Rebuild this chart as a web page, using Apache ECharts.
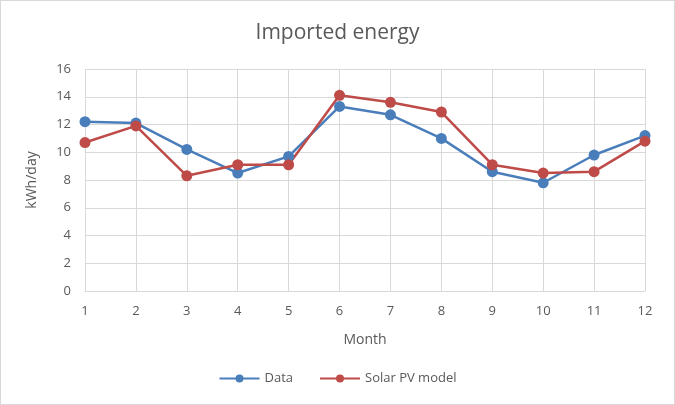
<!DOCTYPE html>
<html><head><meta charset="utf-8">
<script src="https://cdn.jsdelivr.net/npm/echarts@6/dist/echarts.min.js"></script>
<style>html,body{margin:0;padding:0;background:#fff}#c{width:673px;height:403px;border:1px solid #d9d9d9}</style>
</head><body><div id="c"></div>
<script>
const months = ['1','2','3','4','5','6','7','8','9','10','11','12'];
const dataSeries = [12.2, 12.1, 10.2, 8.5, 9.7, 13.3, 12.7, 11.0, 8.6, 7.8, 9.8, 11.2];
const modelSeries = [10.7, 11.9, 8.3, 9.1, 9.1, 14.1, 13.6, 12.9, 9.1, 8.5, 8.6, 10.8];
const font = 'Open Sans';
const chart = echarts.init(document.getElementById('c'));
chart.setOption({
  animation: false,
  title: {text: 'Imported energy', left: 'center', top: 17, textStyle: {fontFamily: font, fontSize: 21, fontWeight: 'normal', color: '#595959'}},
  grid: {left: 84, right: 29, top: 68, bottom: 113},
  legend: {bottom: 14, left: 'center', itemWidth: 40, itemHeight: 10, itemGap: 26, textStyle: {fontFamily: font, fontSize: 13, color: '#595959'},
    data: ['Data', 'Solar PV model']},
  xAxis: {type: 'category', data: months, boundaryGap: false,
    name: 'Month', nameLocation: 'middle', nameGap: 42, nameTextStyle: {fontFamily: font, fontSize: 14, color: '#595959'},
    axisLine: {lineStyle: {color: '#d9d9d9'}}, axisTick: {show: false},
    axisLabel: {fontFamily: font, fontSize: 13, color: '#595959', margin: 14},
    splitLine: {show: true, lineStyle: {color: '#d9d9d9'}}},
  yAxis: {type: 'value', min: 0, max: 16, interval: 2,
    name: 'kWh/day', nameLocation: 'middle', nameGap: 46, nameTextStyle: {fontFamily: font, fontSize: 14, color: '#595959'},
    axisLine: {show: false}, axisTick: {show: false},
    axisLabel: {fontFamily: font, fontSize: 13, color: '#595959', margin: 14},
    splitLine: {lineStyle: {color: '#d9d9d9'}}},
  series: [
    {name: 'Data', type: 'line', data: dataSeries, symbol: 'circle', symbolSize: 11,
      itemStyle: {color: '#4a7ebb'}, lineStyle: {width: 2.5, color: '#4a7ebb'}},
    {name: 'Solar PV model', type: 'line', data: modelSeries, symbol: 'circle', symbolSize: 11,
      itemStyle: {color: '#be4b48'}, lineStyle: {width: 2.5, color: '#be4b48'}}
  ]
});
</script></body></html>
